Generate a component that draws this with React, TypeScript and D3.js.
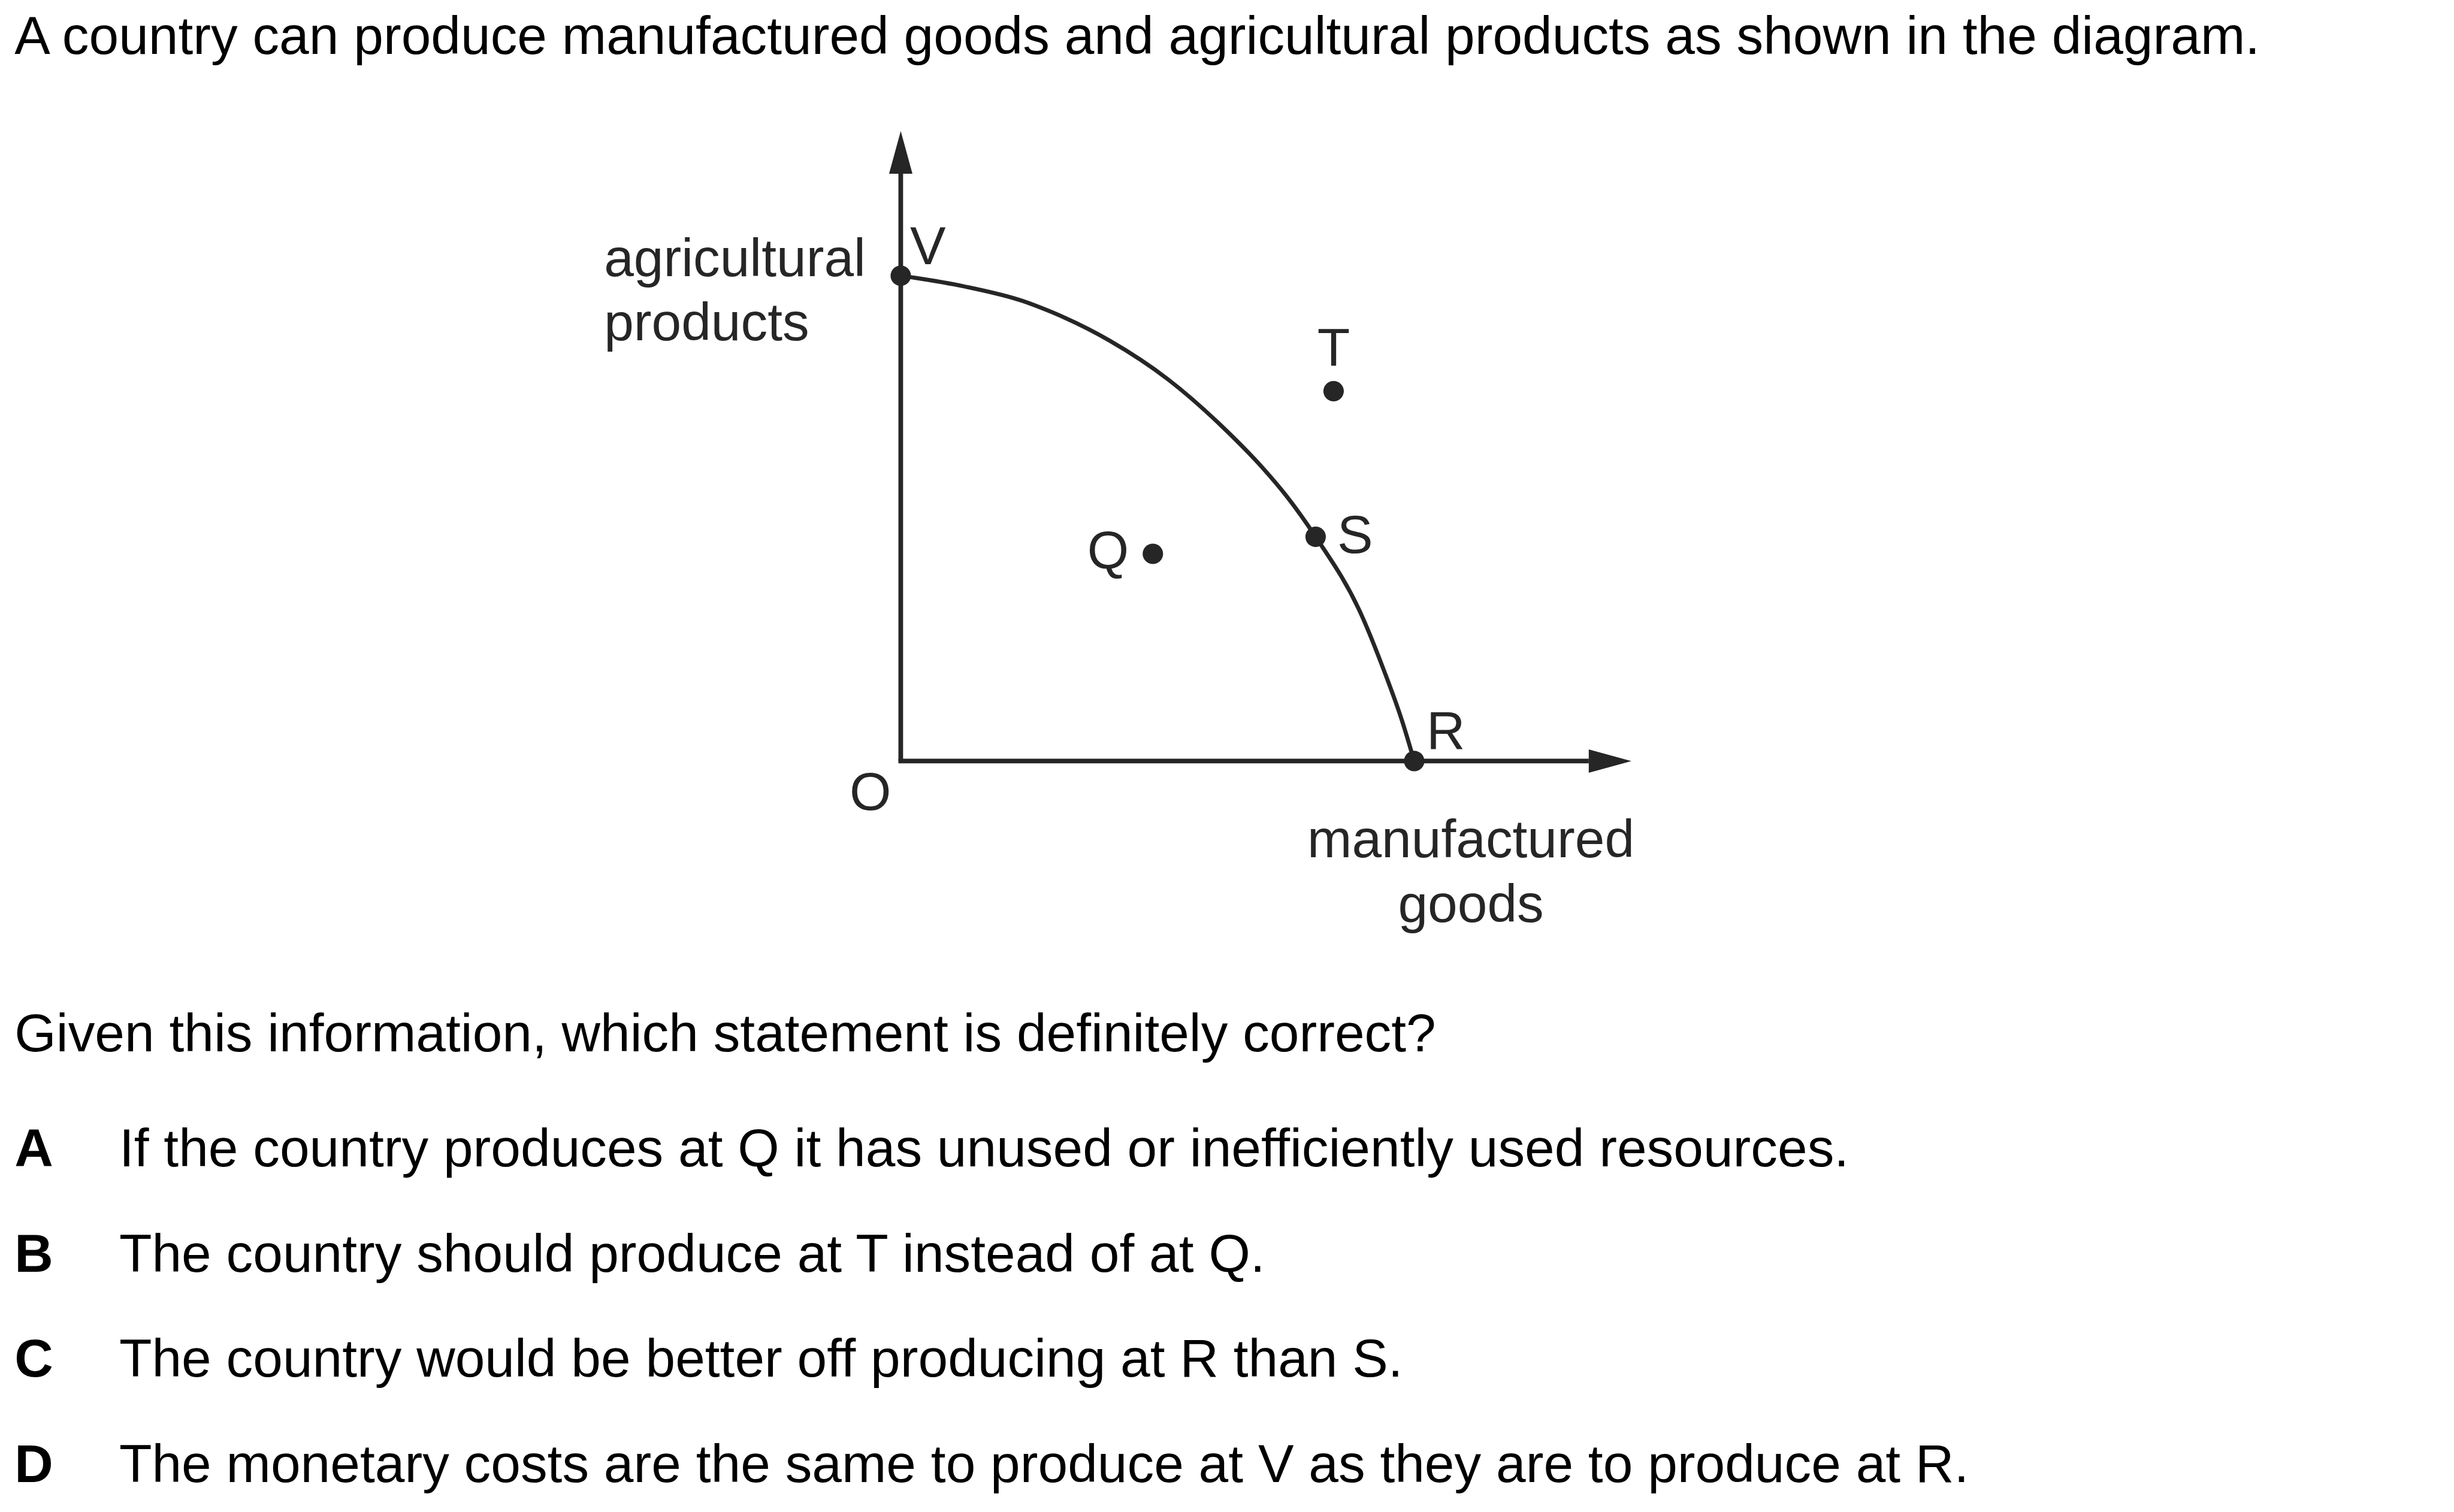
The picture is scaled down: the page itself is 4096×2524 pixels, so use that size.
import React from 'react';
import * as d3 from 'd3';

// production possibility curve (manufactured, agricultural)
const curveX = [0, 12.3, 23.7, 29.4, 40.7, 52.1, 63.5, 70.4, 75.2, 80.8, 89.6, 94.2, 97.6, 100];
const curveY = [100, 97.8, 94.8, 92.5, 86.6, 78.6, 68.0, 60.5, 54.5, 46.2, 30.4, 18.4, 8.4, 0];

// labelled points
const pointNames = ['V', 'S', 'R', 'T', 'Q'];
const pointX = [0, 80.8, 100, 84.3, 49.1];
const pointY = [100, 46.2, 0, 76.2, 42.7];

const xAxisEnd = 142.3;
const yAxisEnd = 129.8;

const question = 'A country can produce manufactured goods and agricultural products as shown in the diagram.';
const prompt = 'Given this information, which statement is definitely correct?';
const optionKeys = ['A', 'B', 'C', 'D'];
const optionTexts = [
  'If the country produces at Q it has unused or inefficiently used resources.',
  'The country should produce at T instead of at Q.',
  'The country would be better off producing at R than S.',
  'The monetary costs are the same to produce at V as they are to produce at R.',
];

const FONT = '"Liberation Sans", Arial, Helvetica, sans-serif';
const INK = '#262626';

const App = () => {
  const W = 4096;
  const H = 2524;
  const k = 0.975;

  const x = d3.scaleLinear().domain([0, 100]).range([1542, 2421]);
  const y = d3.scaleLinear().domain([0, 100]).range([1303, 472]);

  const line = d3
    .line<number>()
    .x((_, i) => x(curveX[i]))
    .y((_, i) => y(curveY[i]))
    .curve(d3.curveMonotoneX);

  const x0 = x(0);
  const y0 = y(0);
  const xTip = x(xAxisEnd);
  const yTip = y(yAxisEnd);
  const head = 73;
  const half = 20;

  // label placement relative to each dot
  const labelPos: Record<string, { dx: number; dy: number; anchor: string }> = {
    V: { dx: 16, dy: -20, anchor: 'start' },
    S: { dx: 37, dy: 28, anchor: 'start' },
    R: { dx: 21, dy: -21, anchor: 'start' },
    T: { dx: 0, dy: -43, anchor: 'middle' },
    Q: { dx: -41, dy: 25, anchor: 'end' },
  };

  return (
    <svg
      width={W}
      height={H}
      style={{ position: 'absolute', left: 0, top: 0, background: '#fff' }}
    >
      <g transform={`scale(${k})`} fontFamily={FONT} fontSize={91.6}>
        <text x={25} y={92} fill="#000">
          {question}
        </text>

        {/* axes */}
        <line x1={x0} y1={y0} x2={x0} y2={yTip + head} stroke={INK} strokeWidth={8} />
        <path d={`M${x0},${yTip} L${x0 - half},${yTip + head} L${x0 + half},${yTip + head} Z`} fill={INK} />
        <line x1={x0 - 4} y1={y0} x2={xTip - head} y2={y0} stroke={INK} strokeWidth={8} />
        <path d={`M${xTip},${y0} L${xTip - head},${y0 - half} L${xTip - head},${y0 + half} Z`} fill={INK} />

        {/* curve */}
        <path d={line(curveX) || ''} fill="none" stroke={INK} strokeWidth={7} />

        {pointNames.map((n, i) => {
          const cx = x(pointX[i]);
          const cy = y(pointY[i]);
          const p = labelPos[n];
          return (
            <g key={n}>
              <circle cx={cx} cy={cy} r={17.5} fill={INK} />
              <text x={cx + p.dx} y={cy + p.dy} textAnchor={p.anchor} fill={INK}>
                {n}
              </text>
            </g>
          );
        })}

        <text x={1490} y={1387} textAnchor="middle" fill={INK}>
          O
        </text>
        <text x={1034} y={473} fill={INK}>
          agricultural
        </text>
        <text x={1034} y={583} fill={INK}>
          products
        </text>
        <text x={2518} y={1468} textAnchor="middle" fill={INK}>
          manufactured
        </text>
        <text x={2518} y={1578} textAnchor="middle" fill={INK}>
          goods
        </text>

        <text x={25} y={1800} fill="#000">
          {prompt}
        </text>
        {optionKeys.map((key, i) => (
          <g key={key}>
            <text x={25} y={1997 + i * 180} fontWeight="bold" fill="#000">
              {key}
            </text>
            <text x={204} y={1997 + i * 180} fill="#000">
              {optionTexts[i]}
            </text>
          </g>
        ))}
      </g>
    </svg>
  );
};

export default App;
